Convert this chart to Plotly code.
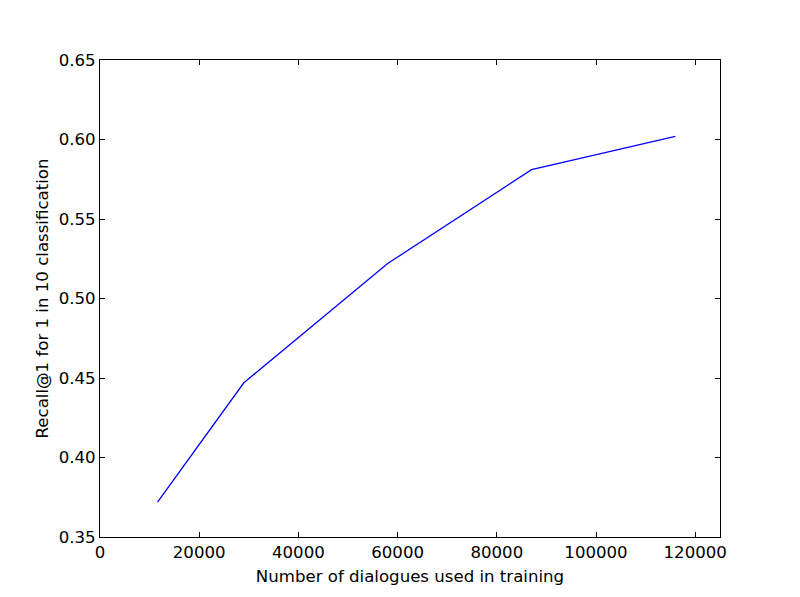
import plotly.graph_objects as go

dialogues = [11600, 29000, 58000, 87000, 116000]
recall_at_1 = [0.372, 0.447, 0.522, 0.581, 0.602]

x_ticks = [0, 20000, 40000, 60000, 80000, 100000, 120000]
y_ticks = [0.35, 0.40, 0.45, 0.50, 0.55, 0.60, 0.65]

fig = go.Figure()
fig.add_trace(go.Scatter(
    x=dialogues, y=recall_at_1, mode="lines",
    line=dict(color="#0000ff", width=1.3),
    showlegend=False,
))

font = dict(family="DejaVu Sans", size=16.6, color="black")
axis_common = dict(
    showline=True, linecolor="black", linewidth=1.2,
    mirror="ticks", ticks="inside", ticklen=5, tickwidth=1, tickcolor="black",
    showgrid=False, zeroline=False, tickfont=font,
)

fig.update_layout(
    width=800, height=597,
    margin=dict(l=92, r=88, t=52, b=68),
    paper_bgcolor="white", plot_bgcolor="white",
    font=font,
    xaxis=dict(range=[0, 125000], tickvals=x_ticks, tickformat="d",
               title=dict(text="Number of dialogues used in training", font=font, standoff=9),
               **axis_common),
    yaxis=dict(range=[0.35, 0.65], tickvals=y_ticks, tickformat=".2f",
               title=dict(text="Recall@1 for 1 in 10 classification", font=font, standoff=5),
               **axis_common),
)

fig.write_html("out.html")
